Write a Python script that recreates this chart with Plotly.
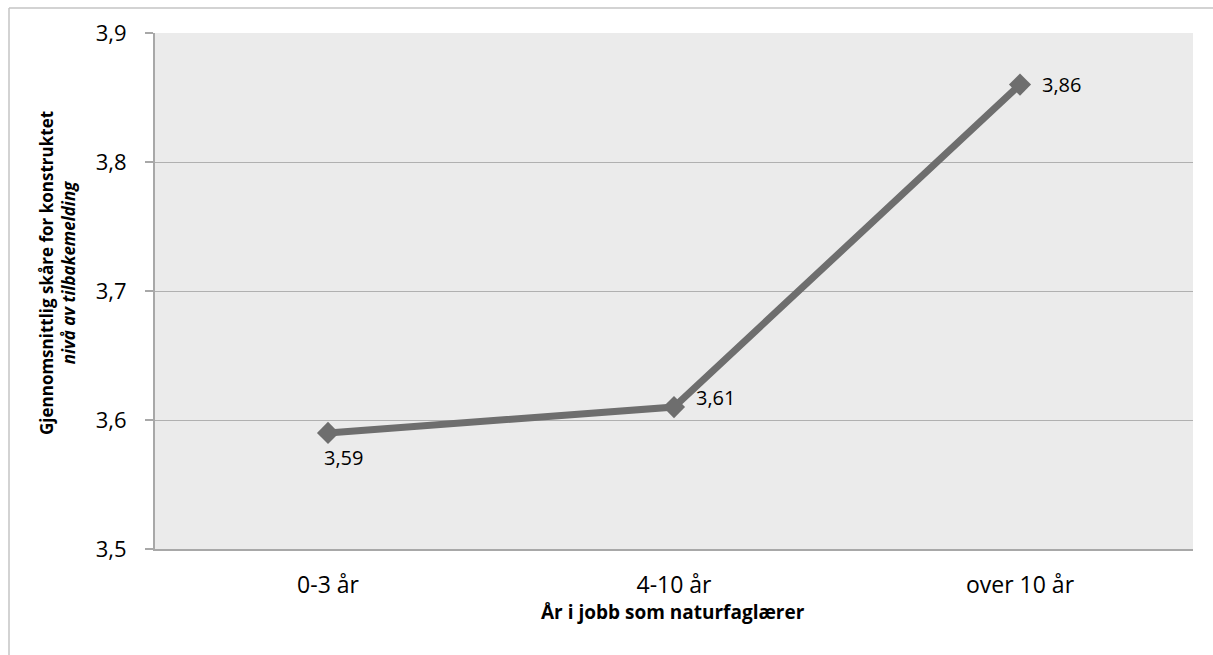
import plotly.graph_objects as go

categories = ["0-3 år", "4-10 år", "over 10 år"]
values = [3.59, 3.61, 3.86]
y_ticks = [3.5, 3.6, 3.7, 3.8, 3.9]
x_title = "År i jobb som naturfaglærer"
y_title_line1 = "Gjennomsnittlig skåre for konstruktet"
y_title_line2 = "nivå av tilbakemelding"

# label placement styles (pixel offsets)
label_xshift = [15, 20, 20]
label_yshift = [-25, 10, 0]
label_anchor = ["center", "left", "left"]

FONT = "Open Sans"
L, R, T, B = 155, 20, 33, 106
W, H = 1213, 655
pw, ph = W - L - R, H - T - B

fig = go.Figure()
fig.add_trace(go.Scatter(
    x=categories, y=values, mode="lines+markers",
    line=dict(color="#6e6e6e", width=7),
    marker=dict(symbol="diamond", size=17, color="#6e6e6e"),
    hoverinfo="skip", showlegend=False,
))

for i, (c, v) in enumerate(zip(categories, values)):
    fig.add_annotation(
        x=c, y=v, text=f"{v:.2f}".replace(".", ","), showarrow=False,
        xanchor=label_anchor[i], yanchor="middle",
        xshift=label_xshift[i], yshift=label_yshift[i],
        font=dict(family=FONT, size=20, color="#000000"),
    )

# y title (two lines, second italic)
fig.add_annotation(
    x=(57 - L) / pw, y=(H - B - 273) / ph, xref="paper", yref="paper",
    text=f"<b>{y_title_line1}</b><br><b><i>{y_title_line2}</i></b>",
    textangle=-90, showarrow=False, xanchor="center", yanchor="middle",
    font=dict(family=FONT, size=17, color="#000000"),
)
# x title
fig.add_annotation(
    x=((543 + 803) / 2 - L) / pw, y=(H - B - 612) / ph, xref="paper", yref="paper",
    text=f"<b>{x_title}</b>", showarrow=False, xanchor="center", yanchor="middle",
    font=dict(family=FONT, size=19, color="#000000"),
)

# outer frame (left and top)
fx0 = (9 - L) / pw
fx1 = (W - L) / pw
fy0 = (H - B - H) / ph
fy1 = (H - B - 8) / ph
fig.add_shape(type="line", xref="paper", yref="paper", x0=fx0, x1=fx0, y0=fy0, y1=fy1,
              line=dict(color="#c4c4c4", width=1.5))
fig.add_shape(type="line", xref="paper", yref="paper", x0=fx0, x1=fx1, y0=fy1, y1=fy1,
              line=dict(color="#c4c4c4", width=1.5))

fig.update_layout(
    width=W, height=H,
    margin=dict(l=L, r=R, t=T, b=B, pad=0),
    paper_bgcolor="white", plot_bgcolor="#ebebeb",
    separators=",.",
    font=dict(family=FONT, color="#000000"),
    xaxis=dict(
        type="category", range=[-0.5, 2.5], showgrid=False,
        showline=True, linecolor="#a8a8a8", linewidth=2,
        ticks="", tickfont=dict(family=FONT, size=23, color="#000000"),
        ticklabelstandoff=14, fixedrange=True,
    ),
    yaxis=dict(
        range=[3.5, 3.9], tickvals=y_ticks, tickformat=".1f",
        showgrid=True, gridcolor="#b0b0b0", gridwidth=1,
        showline=True, linecolor="#a8a8a8", linewidth=2,
        ticks="outside", ticklen=8, tickcolor="#a8a8a8", tickwidth=1.5,
        tickfont=dict(family=FONT, size=22, color="#000000"),
        ticklabelstandoff=14, zeroline=False, fixedrange=True,
    ),
)

fig.write_html("out.html", config={"displayModeBar": False})
